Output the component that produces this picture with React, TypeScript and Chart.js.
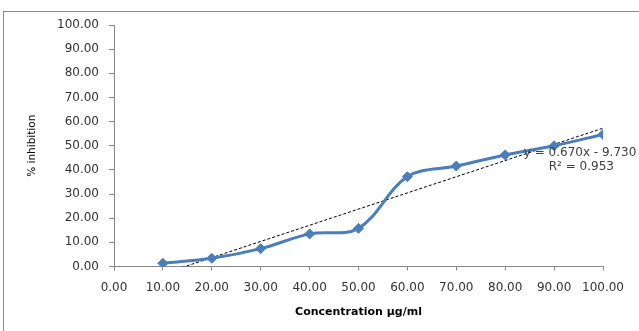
import React, { useEffect, useRef } from "react";
import { Chart, registerables } from "chart.js";

Chart.register(...registerables);

const concentrations = [10, 20, 30, 40, 50, 60, 70, 80, 90, 100];
const inhibition = [1.3, 3.4, 7.4, 13.5, 15.8, 37.2, 41.6, 46.2, 50.0, 54.7];
const trendSlope = 0.67;
const trendIntercept = -9.73;
const rSquared = 0.953;
const xTitle = "Concentration µg/ml";
const yTitle = "% inhibition";
const equationLabel = "y = 0.670x - 9.730";
const r2Label = "R² = 0.953";
// annotation anchors in data units
const equationAt = { x: 83.8, y: 47.1 };
const r2At = { x: 88.9, y: 41.1 };

const frame = {
  id: "frame",
  beforeDraw(chart: any) {
    const ctx = chart.ctx;
    ctx.save();
    ctx.fillStyle = "#ffffff";
    ctx.fillRect(0, 0, chart.width, chart.height);
    ctx.strokeStyle = "#888888";
    ctx.lineWidth = 1;
    ctx.strokeRect(3.5, 11.5, chart.width + 10, chart.height + 10);
    ctx.restore();
  },
  afterDatasetsDraw(chart: any) {
    const ctx = chart.ctx;
    const xs = chart.scales.x;
    const ys = chart.scales.y;
    ctx.save();
    ctx.fillStyle = "#404040";
    ctx.font = "12px 'DejaVu Sans'";
    ctx.textAlign = "left";
    ctx.textBaseline = "middle";
    ctx.fillText(equationLabel, xs.getPixelForValue(equationAt.x), ys.getPixelForValue(equationAt.y));
    ctx.fillText(r2Label, xs.getPixelForValue(r2At.x), ys.getPixelForValue(r2At.y));
    ctx.restore();
  },
};

export default function App() {
  const ref = useRef<HTMLCanvasElement>(null);
  useEffect(() => {
    document.body.style.margin = "0";
    const first = concentrations[0];
    const last = concentrations[concentrations.length - 1];
    const trend = [
      { x: first, y: trendSlope * first + trendIntercept },
      { x: last, y: trendSlope * last + trendIntercept },
    ];
    void rSquared;
    const chart = new Chart(ref.current!, {
      type: "line",
      data: {
        datasets: [
          {
            label: "inhibition",
            data: concentrations.map((c, i) => ({ x: c, y: inhibition[i] })),
            borderColor: "#4A7EBB",
            backgroundColor: "#4A7EBB",
            borderWidth: 3,
            tension: 0.35,
            pointStyle: "rectRot",
            pointRadius: 5,
            pointBorderWidth: 1,
            order: 1,
          },
          {
            label: "trend",
            data: trend,
            borderColor: "#000000",
            borderWidth: 1,
            borderDash: [3, 2],
            pointRadius: 0,
            tension: 0,
            order: 2,
          },
        ],
      },
      options: {
        responsive: false,
        animation: false,
        layout: { padding: { left: 0, right: 36, top: 25, bottom: 0 } },
        plugins: { legend: { display: false }, tooltip: { enabled: false } },
        scales: {
          x: {
            type: "linear",
            min: 0,
            max: 100,
            afterFit: (s: any) => {
              s.height = 64.5;
            },
            ticks: {
              stepSize: 10,
              color: "#333333",
              padding: 10,
              maxRotation: 0,
              font: { family: "'DejaVu Sans'", size: 12 },
              callback: (v: any) => Number(v).toFixed(2),
            },
            grid: { drawOnChartArea: false, drawTicks: true, tickLength: 4, color: "#888888" },
            border: { display: true, color: "#888888" },
            title: {
              display: true,
              text: xTitle,
              color: "#000000",
              font: { family: "'DejaVu Sans'", size: 11, weight: "bold" },
              padding: { top: 0, bottom: 12.4 },
            },
          },
          y: {
            min: 0,
            max: 100,
            afterFit: (s: any) => {
              s.width = 114;
            },
            ticks: {
              stepSize: 10,
              color: "#333333",
              padding: 10,
              font: { family: "'DejaVu Sans'", size: 12 },
              callback: (v: any) => Number(v).toFixed(2),
            },
            grid: { drawOnChartArea: false, drawTicks: true, tickLength: 5, color: "#888888" },
            border: { display: true, color: "#888888" },
            title: {
              display: true,
              text: yTitle,
              color: "#000000",
              font: { family: "'DejaVu Sans'", size: 10.5 },
              padding: { top: 26.4, bottom: 0 },
            },
          },
        },
      },
      plugins: [frame],
    });
    return () => chart.destroy();
  }, []);
  return <canvas ref={ref} width={639} height={331} style={{ display: "block" }} />;
}
